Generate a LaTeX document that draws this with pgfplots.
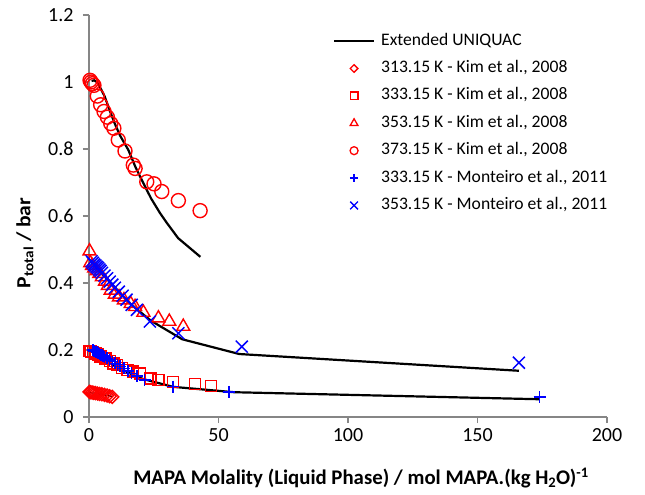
\documentclass[border=0pt]{standalone}
\usepackage{fontspec}
\setmainfont{Carlito}
\usepackage{pgfplots}
\pgfplotsset{compat=1.18}
\definecolor{axgray}{HTML}{868686}
\definecolor{xred}{HTML}{FF0000}
\definecolor{xblue}{HTML}{0000FF}
\begin{document}
\begin{tikzpicture}
\begin{axis}[
  name=ax,
  width=518pt, height=402pt, scale only axis,
  xmin=0, xmax=200, ymin=0, ymax=1.2,
  axis x line*=bottom, axis y line*=left,
  axis line style={axgray, line width=1.2pt, -},
  xtick={0,50,100,150,200}, ytick={0,0.2,0.4,0.6,0.8,1,1.2},
  tick align=outside, major tick length=6pt,
  tick style={axgray, line width=1.2pt},
  /pgf/number format/assume math mode=true,
  ticklabel style={font=\fontsize{20}{24}\selectfont, black},
  yticklabel style={xshift=-6pt},
  xticklabel style={yshift=-2pt},
  xlabel={\bfseries MAPA Molality (Liquid Phase) / mol MAPA.(kg H\textsubscript{2}O)\textsuperscript{-1}},
  ylabel={\bfseries P\textsubscript{total} / bar},
  xlabel style={font=\fontsize{20.8}{24}\selectfont, at={(axis description cs:0.5251,-0.1517)}, anchor=center},
  ylabel style={font=\fontsize{20}{24}\selectfont, at={(axis description cs:-0.1236,0.433)}, anchor=center, xscale=1.08},
  clip=false,
  legend cell align=left,
  legend image code/.code={\draw[mark repeat=2,mark phase=2,#1] plot coordinates {(0pt,0pt) (20pt,0pt) (40pt,0pt)};},
  legend style={draw=none, fill=none, at={(axis description cs:0.471,0.955)}, anchor=north west,
    inner sep=0pt, outer sep=0pt, row sep=11.4pt, column sep=6pt,
    font=\fontsize{17.6}{20}\selectfont,
    nodes={inner sep=0pt, text height=12pt, text depth=4pt}},
]
% legend images
\addlegendimage{black, line width=2.2pt}
\addlegendentry{Extended UNIQUAC}
\addlegendimage{only marks, xred, mark=square, mark options={rotate=45}, mark size=2.7pt, line width=1.3pt}
\addlegendentry{313.15 K - Kim et al., 2008}
\addlegendimage{only marks, xred, mark=square, mark size=3.8pt, line width=1.3pt}
\addlegendentry{333.15 K - Kim et al., 2008}
\addlegendimage{only marks, xred, mark=triangle, mark size=4.5pt, line width=1.3pt}
\addlegendentry{353.15 K - Kim et al., 2008}
\addlegendimage{only marks, xred, mark=o, mark size=4pt, line width=1.3pt}
\addlegendentry{373.15 K - Kim et al., 2008}
\addlegendimage{only marks, xblue, mark=+, mark size=4.2pt, line width=1.3pt}
\addlegendentry{333.15 K - Monteiro et al., 2011}
\addlegendimage{only marks, xblue, mark=x, mark size=5.5pt, line width=1.3pt}
\addlegendentry{353.15 K - Monteiro et al., 2011}

% Extended UNIQUAC lines
\addplot[forget plot, black, line width=2.2pt] coordinates {
(1,1.003) (2,1.005) (3,1.0) (4,0.988) (6,0.958) (8,0.915) (10,0.875) (12,0.840)
(15.2,0.797) (18,0.745) (21,0.698) (24,0.652) (27.4,0.609) (30,0.580) (34.4,0.534) (43,0.478)};
\addplot[forget plot, black, line width=2.2pt] coordinates {
(1,0.462) (3,0.444) (5,0.428) (7,0.412) (10,0.387) (13,0.362) (16,0.338) (20,0.312)
(24,0.287) (36,0.232) (58,0.188) (166,0.138)};
\addplot[forget plot, black, line width=2.2pt] coordinates {
(1,0.196) (3,0.186) (5,0.176) (8,0.162) (11,0.149) (14,0.137) (17,0.126) (21,0.113)
(32.5,0.090) (56,0.074) (174,0.053)};
\addplot[forget plot, black, line width=1.5pt] coordinates {
(0.3,0.073) (3,0.070) (6,0.066) (9,0.061)};

% 313.15 K Kim
\addplot[forget plot, only marks, xred, mark=square, mark options={rotate=45}, mark size=4.6pt, line width=1.4pt] coordinates {
(0.2,0.075) (0.6,0.074) (1.2,0.073) (1.8,0.072) (2.5,0.071) (3.3,0.070) (4.1,0.069)
(5,0.068) (6,0.066) (7,0.064) (8,0.062) (9,0.060)};
% 333.15 K Kim
\addplot[forget plot, only marks, xred, mark=square, mark size=5.5pt, line width=1.4pt] coordinates {
(0.2,0.197) (0.8,0.196) (1.5,0.194) (2.5,0.190) (3.5,0.186) (4.5,0.181) (6.4,0.175)
(8,0.167) (9.5,0.160) (10.9,0.155) (12.8,0.147) (14.8,0.140) (17.1,0.136) (19.7,0.130)
(23.8,0.115) (26.8,0.110) (32.5,0.105) (40.9,0.098) (47,0.093)};
% 353.15 K Kim
\addplot[forget plot, only marks, xred, mark=triangle, mark size=7.5pt, line width=1.4pt] coordinates {
(0.2,0.495) (0.5,0.460) (1.2,0.452) (2,0.444) (3,0.436) (4,0.428) (5,0.418) (6.2,0.405)
(7.3,0.392) (8.4,0.378) (10,0.366) (11.6,0.358) (13.5,0.349) (16.1,0.338) (17.8,0.329)
(21,0.312) (26.8,0.295) (31,0.285) (36.4,0.270)};
% 373.15 K Kim
\addplot[forget plot, only marks, xred, mark=o, mark size=7pt, line width=1.4pt] coordinates {
(0.4,1.005) (0.8,1.000) (1.3,0.995) (1.9,0.990) (3.2,0.958) (4.5,0.932) (5.8,0.912)
(7.1,0.895) (8.4,0.876) (9.6,0.862) (11.3,0.827) (13.9,0.794) (17.1,0.752) (17.8,0.742)
(22.3,0.702) (25.1,0.696) (28.1,0.673) (34.5,0.646) (42.9,0.616)};
% 333.15 K Monteiro
\addplot[forget plot, only marks, xblue, mark=+, mark size=6pt, line width=1.5pt] coordinates {
(1.5,0.200) (2,0.197) (2.5,0.195) (3,0.193) (3.5,0.191) (4,0.189) (4.5,0.186) (5,0.184)
(5.5,0.182) (6,0.179) (7,0.175) (8,0.170) (9,0.165) (10,0.160) (11,0.156) (12,0.151)
(13.5,0.145) (15,0.138) (16.5,0.130) (18.5,0.122) (21.5,0.110) (32.5,0.091) (54,0.075) (174,0.059)};
% 353.15 K Monteiro
\addplot[forget plot, only marks, xblue, mark=x, mark size=8.5pt, line width=1.5pt] coordinates {
(1,0.465) (1.5,0.460) (2,0.455) (2.5,0.452) (3,0.448) (3.5,0.445) (4,0.440) (4.5,0.436)
(5,0.430) (6,0.422) (7,0.414) (8,0.404) (9,0.395) (10,0.386) (11.5,0.374) (13,0.362)
(14.5,0.350) (16.5,0.335) (18.5,0.320) (23.5,0.285) (34.5,0.250) (59,0.210) (166,0.162)};
\end{axis}
\pgfresetboundingbox
\path[use as bounding box] ([xshift=-89pt,yshift=-78pt]ax.south west) rectangle ([xshift=38pt,yshift=15pt]ax.north east);
\end{tikzpicture}
\end{document}
